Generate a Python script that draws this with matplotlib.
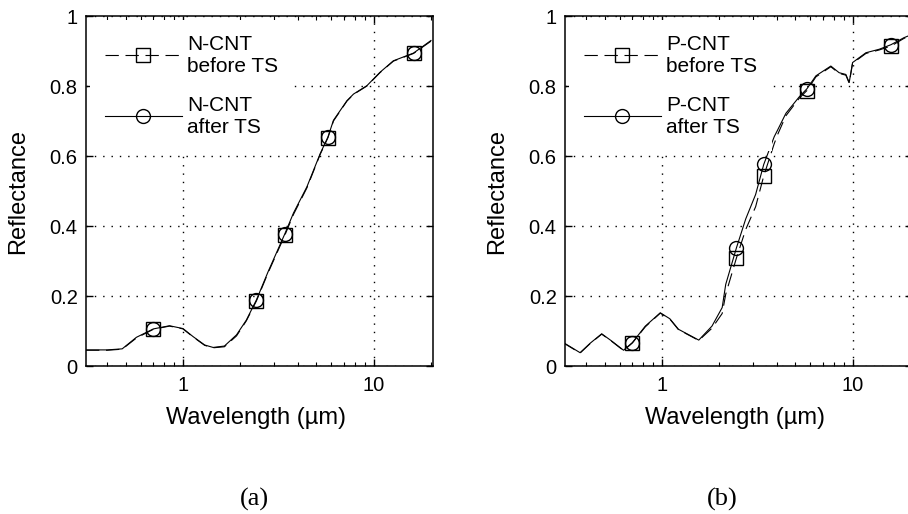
import matplotlib
matplotlib.use("Agg")
import matplotlib.pyplot as plt
from matplotlib.ticker import FixedLocator, LogLocator, NullFormatter

plt.rcParams['font.family'] = ['Liberation Sans', 'DejaVu Sans']

# (a) N-CNT
wl_a = [0.31, 0.40, 0.48, 0.57, 0.70, 0.85, 1.00, 1.13, 1.30, 1.44, 1.65, 1.91, 2.15, 2.43,
        2.80, 3.42, 3.80, 4.47, 5.25, 5.76, 6.16, 7.25, 7.85, 9.23, 10.8, 12.7, 16.2, 20.0]
before_a = [0.045, 0.045, 0.048, 0.080, 0.105, 0.114, 0.106, 0.083, 0.059, 0.052, 0.055, 0.086, 0.129, 0.186,
            0.267, 0.373, 0.433, 0.509, 0.605, 0.652, 0.700, 0.757, 0.776, 0.800, 0.838, 0.871, 0.893, 0.928]
after_a = [0.046, 0.046, 0.049, 0.082, 0.106, 0.115, 0.107, 0.084, 0.060, 0.053, 0.057, 0.089, 0.131, 0.189,
           0.270, 0.377, 0.437, 0.512, 0.607, 0.654, 0.702, 0.758, 0.777, 0.801, 0.839, 0.872, 0.894, 0.930]
marks_a = [4, 13, 15, 19, 26]

# (b) P-CNT
wl_b = [0.304, 0.372, 0.42, 0.483, 0.546, 0.629, 0.70, 0.818, 0.98, 1.10, 1.22, 1.56, 1.83, 2.07,
        2.16, 2.46, 2.75, 3.10, 3.42, 3.88, 4.05, 4.47, 5.25, 5.76, 6.42, 7.69, 8.5, 9.22, 9.6,
        10.0, 11.75, 13.8, 15.9, 18.6, 20.0]
before_b = [0.066, 0.037, 0.064, 0.091, 0.070, 0.044, 0.066, 0.112, 0.151, 0.134, 0.104, 0.073, 0.108, 0.150,
            0.205, 0.309, 0.390, 0.455, 0.543, 0.635, 0.662, 0.715, 0.765, 0.787, 0.826, 0.855, 0.836, 0.831, 0.808,
            0.865, 0.893, 0.903, 0.914, 0.936, 0.943]
after_b = [0.067, 0.038, 0.065, 0.092, 0.071, 0.045, 0.067, 0.114, 0.152, 0.135, 0.105, 0.074, 0.114, 0.167,
           0.233, 0.338, 0.420, 0.490, 0.576, 0.655, 0.675, 0.722, 0.769, 0.792, 0.829, 0.857, 0.838, 0.833, 0.810,
           0.867, 0.895, 0.905, 0.918, 0.938, 0.945]
marks_b = [6, 15, 18, 23, 32]

yticks = [0, 0.2, 0.4, 0.6, 0.8, 1]
ytick_labels = ["0", "0.2", "0.4", "0.6", "0.8", "1"]
xticks = [1, 10]
xtick_labels = ["1", "10"]

W, H = 908, 514
fig = plt.figure(figsize=(W / 100, H / 100), dpi=100)

panels = [
    (86, wl_a, before_a, after_a, marks_a, "N-CNT", "(a)", 254),
    (565, wl_b, before_b, after_b, marks_b, "P-CNT", "(b)", 722),
]

for left, wl, bef, aft, marks, name, cap, capx in panels:
    ax = fig.add_axes([left / W, (H - 366) / H, 347 / W, 350 / H])
    ax.plot(wl, bef, color='black', lw=0.8, ls=(0, (12, 6)), marker='s', ms=10,
            mfc='none', mec='black', mew=1.0, markevery=marks, label=name + "\nbefore TS")
    ax.plot(wl, aft, color='black', lw=0.8, ls='-', marker='o', ms=10,
            mfc='none', mec='black', mew=1.0, markevery=marks, label=name + "\nafter TS")
    ax.set_xscale('log')
    ax.set_xlim(0.31, 20.5)
    ax.set_ylim(0, 1)
    ax.xaxis.set_major_locator(FixedLocator(xticks))
    ax.set_xticklabels(xtick_labels)
    ax.xaxis.set_minor_locator(LogLocator(base=10, subs=range(2, 10)))
    ax.xaxis.set_minor_formatter(NullFormatter())
    ax.set_yticks(yticks)
    ax.set_yticklabels(ytick_labels)
    ax.tick_params(which='both', direction='in', top=True, right=True, labelsize=14.5, colors='black')
    ax.tick_params(which='major', length=5, width=1)
    ax.tick_params(which='minor', length=3, width=0.8)
    ax.tick_params(axis='x', pad=7)
    ax.tick_params(axis='y', pad=6)
    for s in ax.spines.values():
        s.set_linewidth(1.1)
    ax.grid(True, which='major', color='black', ls=(0, (1, 5)), lw=1.0)
    ax.set_xlabel("Wavelength (\u00b5m)", fontsize=17)
    ax.set_ylabel("Reflectance", fontsize=17)
    ax.xaxis.set_label_coords(0.49, -0.117)
    ax.yaxis.set_label_coords(-0.163, 0.5)
    leg = ax.legend(loc='upper left', bbox_to_anchor=(0.0, 1.0), fontsize=15, frameon=True,
                    fancybox=False, facecolor='white', edgecolor='none', framealpha=1,
                    borderpad=0.7, borderaxespad=0.2, labelspacing=0.95,
                    handlelength=3.7, handletextpad=0.25)
    fig.text(capx / W, 1 - 499 / H, cap, ha='center', va='center', fontsize=19,
             family=['Liberation Serif', 'DejaVu Serif'])

fig.savefig("out.png", dpi=100)
